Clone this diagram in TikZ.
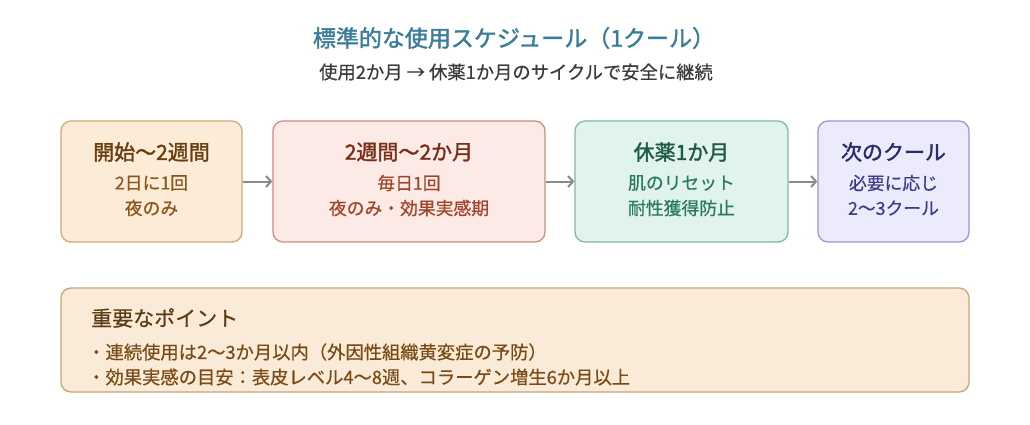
\documentclass[tikz,border=0pt]{standalone}
\usepackage{fontspec}
\setmainfont{Noto Sans CJK JP}
\newfontfamily\medfont{Noto Sans CJK JP}[FakeBold=1.6]
\newfontfamily\txtfont{Noto Sans CJK JP}[FakeBold=0.5]
\usetikzlibrary{arrows.meta}
\definecolor{titlec}{HTML}{3B7D99}
\definecolor{subc}{HTML}{3A3A3A}
\definecolor{arrc}{HTML}{8A8A8A}
\definecolor{aFill}{HTML}{FCECD7}
\definecolor{aDraw}{HTML}{D2A978}
\definecolor{aTtl}{HTML}{6B3E10}
\definecolor{aSub}{HTML}{8A561A}
\definecolor{bFill}{HTML}{FBEAE6}
\definecolor{bDraw}{HTML}{CC8E80}
\definecolor{bTtl}{HTML}{7A2E18}
\definecolor{bSub}{HTML}{A2442A}
\definecolor{cFill}{HTML}{E0F3EC}
\definecolor{cDraw}{HTML}{80B9A2}
\definecolor{cTtl}{HTML}{1F5A45}
\definecolor{cSub}{HTML}{2B7A5B}
\definecolor{dFill}{HTML}{ECEBFB}
\definecolor{dDraw}{HTML}{9C96D2}
\definecolor{dTtl}{HTML}{2E2A6A}
\definecolor{dSub}{HTML}{3F3A8C}
\definecolor{nFill}{HTML}{FAEBD8}
\definecolor{nDraw}{HTML}{C9A478}
\definecolor{nTtl}{HTML}{5C3A12}
\definecolor{nItem}{HTML}{7A4A14}
\begin{document}
\begin{tikzpicture}[x=1pt,y=-1pt,
  stagebox/.style={rectangle, rounded corners=10pt, line width=1.3pt, minimum height=121pt, inner sep=0pt},
  ttl/.style={inner sep=0pt, font=\medfont\fontsize{21}{25}\selectfont},
  sub/.style={inner sep=0pt, font=\txtfont\fontsize{17.8}{22}\selectfont},
  item/.style={inner sep=0pt, anchor=west, text=nItem, font=\txtfont\fontsize{18.3}{22}\selectfont},
  arr/.style={draw=arrc, line width=2pt, -{Straight Barb[length=5pt,width=11pt]}}]
\useasboundingbox (0,0) rectangle (1030,424);
\fill[white] (0,0) rectangle (1030,424);
% header
\node[inner sep=0pt, text=titlec, font=\medfont\fontsize{23}{28}\selectfont] (title) at (514,38) {標準的な使用スケジュール（1クール）};
\node[inner sep=0pt, text=subc, font=\txtfont\fontsize{18.3}{22}\selectfont] (subtitle) at (516,72) {使用2か月 → 休薬1か月のサイクルで安全に継続};
% stage boxes
\node[stagebox, minimum width=181pt, fill=aFill, draw=aDraw] (b1) at (151.5,181.5) {};
\node[stagebox, minimum width=272pt, fill=bFill, draw=bDraw] (b2) at (409,181.5) {};
\node[stagebox, minimum width=213pt, fill=cFill, draw=cDraw] (b3) at (681.5,181.5) {};
\node[stagebox, minimum width=151pt, fill=dFill, draw=dDraw] (b4) at (893.5,181.5) {};
% texts
\node[ttl, text=aTtl] (t1) at (151.5,152) {開始〜2週間};
\node[sub, text=aSub] (s1a) at (151.5,183) {2日に1回};
\node[sub, text=aSub] (s1b) at (151.5,208) {夜のみ};
\node[ttl, text=bTtl] (t2) at (409,152) {2週間〜2か月};
\node[sub, text=bSub] (s2a) at (409,183) {毎日1回};
\node[sub, text=bSub] (s2b) at (409,208) {夜のみ・効果実感期};
\node[ttl, text=cTtl] (t3) at (681.5,152) {休薬1か月};
\node[sub, text=cSub] (s3a) at (681.5,183) {肌のリセット};
\node[sub, text=cSub] (s3b) at (681.5,208) {耐性獲得防止};
\node[ttl, text=dTtl] (t4) at (893.5,152) {次のクール};
\node[sub, text=dSub] (s4a) at (893.5,183) {必要に応じ};
\node[sub, text=dSub] (s4b) at (893.5,208) {2〜3クール};
% arrows
\draw[arr] (b1.east) -- (b2.west);
\draw[arr] (b2.east) -- (b3.west);
\draw[arr] (b3.east) -- (b4.west);
% note box
\node[rectangle, rounded corners=10pt, line width=1.3pt, fill=nFill, draw=nDraw, minimum width=908pt, minimum height=104pt, inner sep=0pt] (note) at (515,340) {};
\node[inner sep=0pt, anchor=west, text=nTtl, font=\txtfont\fontsize{21}{25}\selectfont] (nt) at (91,318) {重要なポイント};
\node[item] (n1) at (87,352) {・連続使用は2〜3か月以内（外因性組織黄変症の予防）};
\node[item] (n2) at (87,377) {・効果実感の目安：表皮レベル4〜8週、コラーゲン増生6か月以上};
\end{tikzpicture}
\end{document}
